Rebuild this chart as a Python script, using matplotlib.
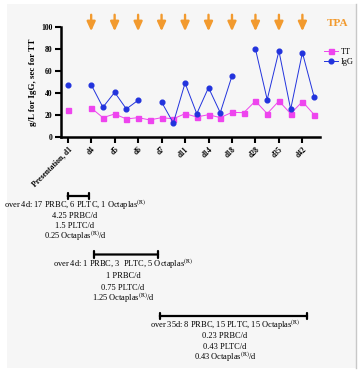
import numpy as np
import matplotlib
matplotlib.use('Agg')
import matplotlib.pyplot as plt
import matplotlib.transforms as mtransforms
from matplotlib.patches import Rectangle

plt.rcParams['font.family'] = ['Liberation Serif', 'DejaVu Serif']
plt.rcParams['mathtext.fontset'] = 'stix'

nan = np.nan
# one point per half-day step on the category axis, labels on every second step
tick_labels = ['Presentation, d1', 'd4', 'd5', 'd6', 'd7', 'd11', 'd14', 'd18', 'd28', 'd35', 'd42']
tt = [25, nan, 26.4, 17.6, 20.9, 16.4, 17.6, 15.5, 17.6, 16.5, 21.2, 18.2,
      20.3, 17.6, 22.4, 22.1, 32.7, 21.2, 32.7, 21.2, 32.2, 20.3]
igg = [47.6, nan, 47.6, 27, 40.6, 25.5, 33.4, nan, 31.8, 12.7, 49, 21.2,
       44.9, 22.1, 55.5, nan, 80, 34, 78.2, 25.2, 76.7, 36.4]
tpa_days = ['d4', 'd5', 'd6', 'd7', 'd11', 'd14', 'd18', 'd28', 'd35', 'd42']

# transfusion summaries: (start, end) on category axis and text lines
periods = [
    (0.0, 1.8, ['over 4d: 17 PRBC, 6 PLTC, 1 Octaplas$^{\\rm (R)}$', '4.25 PRBC/d',
                '1.5 PLTC/d', '0.25 Octaplas$^{\\rm (R)}$/d']),
    (2.25, 7.7, ['over 4d: 1 PRBC, 3  PLTC, 5 Octaplas$^{\\rm (R)}$', '1 PRBC/d',
                 '0.75 PLTC/d', '1.25 Octaplas$^{\\rm (R)}$/d']),
    (7.85, 20.4, ['over 35d: 8 PRBC, 15 PLTC, 15 Octaplas$^{\\rm (R)}$', '0.23 PRBC/d',
                  '0.43 PLTC/d', '0.43 Octaplas$^{\\rm (R)}$/d']),
]

W, H = 360, 372
fig = plt.figure(figsize=(3.6, 3.72), dpi=100)
fig.patch.set_facecolor('white')
fig.patches.append(Rectangle((7 / W, 4 / H), 349 / W, 364 / H, transform=fig.transFigure,
                             facecolor='#f6f6f6', edgecolor='none', zorder=-10))
fig.add_artist(plt.Line2D([356 / W, 356 / W], [4 / H, 368 / H], color='#c8c8c8', lw=1,
                          transform=fig.transFigure))

ax = fig.add_axes([61 / W, 1 - 137 / H, 259 / W, 110 / H])
ax.set_facecolor('none')
x = np.arange(len(tt))
ax.plot(x, tt, color='#ee44ee', marker='s', ms=3.6, lw=0.7, label='TT')
ax.plot(x, igg, color='#2233dd', marker='o', ms=3.4, lw=0.7, label='IgG')

ax.set_xlim(-0.57, 21.5)
ax.set_ylim(0, 100)
ax.set_yticks([0, 20, 40, 60, 80, 100])
ax.set_xticks(np.arange(0, 21, 2))
ax.set_xticklabels(tick_labels, rotation=45, ha='right', rotation_mode='anchor',
                   fontsize=5.5, fontweight='bold')
for t in ax.get_yticklabels():
    t.set_fontsize(5.5)
    t.set_fontweight('bold')
ax.set_ylabel('g/L for IgG, sec for TT', fontsize=6.5, fontweight='bold', labelpad=3)
for s in ['top', 'right']:
    ax.spines[s].set_visible(False)
for s in ['left', 'bottom']:
    ax.spines[s].set_linewidth(1.8)
ax.tick_params(width=1.5, length=4, pad=2)

blend = mtransforms.blended_transform_factory(ax.transData, fig.transFigure)
for d in tpa_days:
    xi = tick_labels.index(d) * 2
    ax.annotate('', xy=(xi, 1 - 34 / H), xytext=(xi, 1 - 12 / H),
                xycoords=blend, textcoords=blend,
                arrowprops=dict(arrowstyle='-|>,head_width=0.25,head_length=0.55',
                                color='#f29a2e', lw=1.7))
fig.text(338 / W, 1 - 23 / H, 'TPA', color='#f29a2e', fontsize=8, fontweight='bold',
         ha='center', va='center')

ax.legend(loc='center left', bbox_to_anchor=(320 / W, 1 - 57 / H),
          bbox_transform=fig.transFigure, frameon=False, fontsize=6,
          handlelength=1.6, handletextpad=0.4, labelspacing=0.3, borderpad=0)

bar_y = [196, 254.5, 316]
text_x = [75, 123, 225]
text_y = [[208, 218.5, 228, 238.5], [266.5, 278, 289.5, 301], [328, 338.5, 349, 360]]
for (x0, x1, lines), by, tx, tys in zip(periods, bar_y, text_x, text_y):
    ax.annotate('', xy=(x0, 1 - by / H), xytext=(x1, 1 - by / H),
                xycoords=blend, textcoords=blend, annotation_clip=False,
                arrowprops=dict(arrowstyle='|-|,widthA=0.25,widthB=0.25',
                                color='black', lw=1.6, shrinkA=0, shrinkB=0))
    for line, ty in zip(lines, tys):
        fig.text(tx / W, 1 - ty / H, line, ha='center', va='baseline', fontsize=6)

fig.savefig('out.png', dpi=100, facecolor=fig.get_facecolor())
